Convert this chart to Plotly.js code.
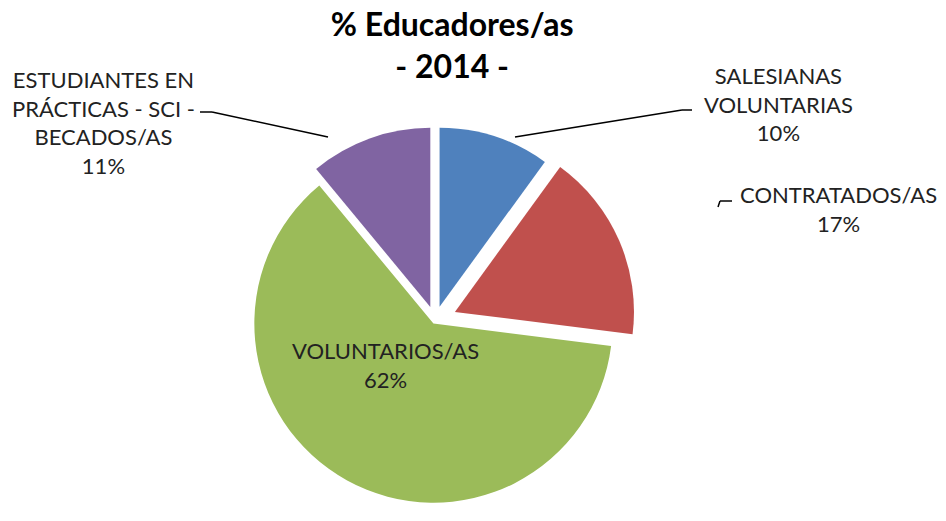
<!DOCTYPE html>
<html>
<head>
<meta charset="utf-8">
<script src="https://cdn.plot.ly/plotly-3.0.1.min.js"></script>
<style>html,body{margin:0;padding:0;background:#fff}#chart{width:946px;height:521px}</style>
</head>
<body>
<div id="chart"></div>
<script>
const categories = ["SALESIANAS<br>VOLUNTARIAS", "CONTRATADOS/AS", "VOLUNTARIOS/AS", "ESTUDIANTES EN<br>PRÁCTICAS - SCI -<br>BECADOS/AS"];
const values = [10, 17, 62, 11];
const colors = ["#4F81BD", "#C0504D", "#9BBB59", "#8064A2"];
const titleText = "% Educadores/as<br>- 2014 -";

const FONT = "Lato, 'Open Sans', sans-serif";
const LSIZE = 22;
const total = values.reduce((a, b) => a + b, 0);
const pct = values.map(v => Math.round(v / total * 100) + "%");
const labelText = categories.map((c, i) => c + "<br>" + pct[i]);

const trace = {
  type: "pie",
  labels: categories,
  values: values,
  sort: false,
  direction: "clockwise",
  rotation: 0,
  pull: [0.08, 0.12, 0.02, 0.08],
  marker: {colors: colors, line: {color: "#ffffff", width: 0}},
  textinfo: "none",
  domain: {x: [0.19, 0.73], y: [0.0, 0.77]},
  hoverinfo: "label+percent"
};

// label positions (pixel centres in the 946x521 frame)
const labelPos = [[778, 104], [838, 209], [385, 365], [103, 122]];
const lbl = (i) => ({
  text: labelText[i], x: labelPos[i][0] / 946, y: 1 - labelPos[i][1] / 521,
  xref: "paper", yref: "paper", showarrow: false,
  font: {family: FONT, size: LSIZE, color: "#222222"},
  align: "center", xanchor: "center", yanchor: "middle"
});
const seg = (x0, y0, x1, y1) => ({
  type: "line", xref: "paper", yref: "paper",
  x0: x0 / 946, y0: 1 - y0 / 521, x1: x1 / 946, y1: 1 - y1 / 521,
  line: {color: "#000", width: 1.5}
});

const layout = {
  width: 946, height: 521,
  margin: {l: 0, r: 0, t: 0, b: 0},
  paper_bgcolor: "#ffffff",
  showlegend: false,
  title: {
    text: "<b>" + titleText + "</b>",
    font: {family: FONT, size: 32, color: "#000000"},
    x: 0.478, xanchor: "center", yref: "container", y: 0.93, yanchor: "top"
  },
  annotations: [lbl(0), lbl(1), lbl(2), lbl(3)],
  shapes: [
    seg(200, 112, 212, 112), seg(212, 112, 328, 137),
    seg(692, 110, 682, 110), seg(682, 110, 515, 137),
    seg(732, 201, 720, 201), seg(720, 201, 718, 207)
  ]
};

Plotly.newPlot("chart", [trace], layout, {displayModeBar: false, staticPlot: true});
</script>
</body>
</html>
